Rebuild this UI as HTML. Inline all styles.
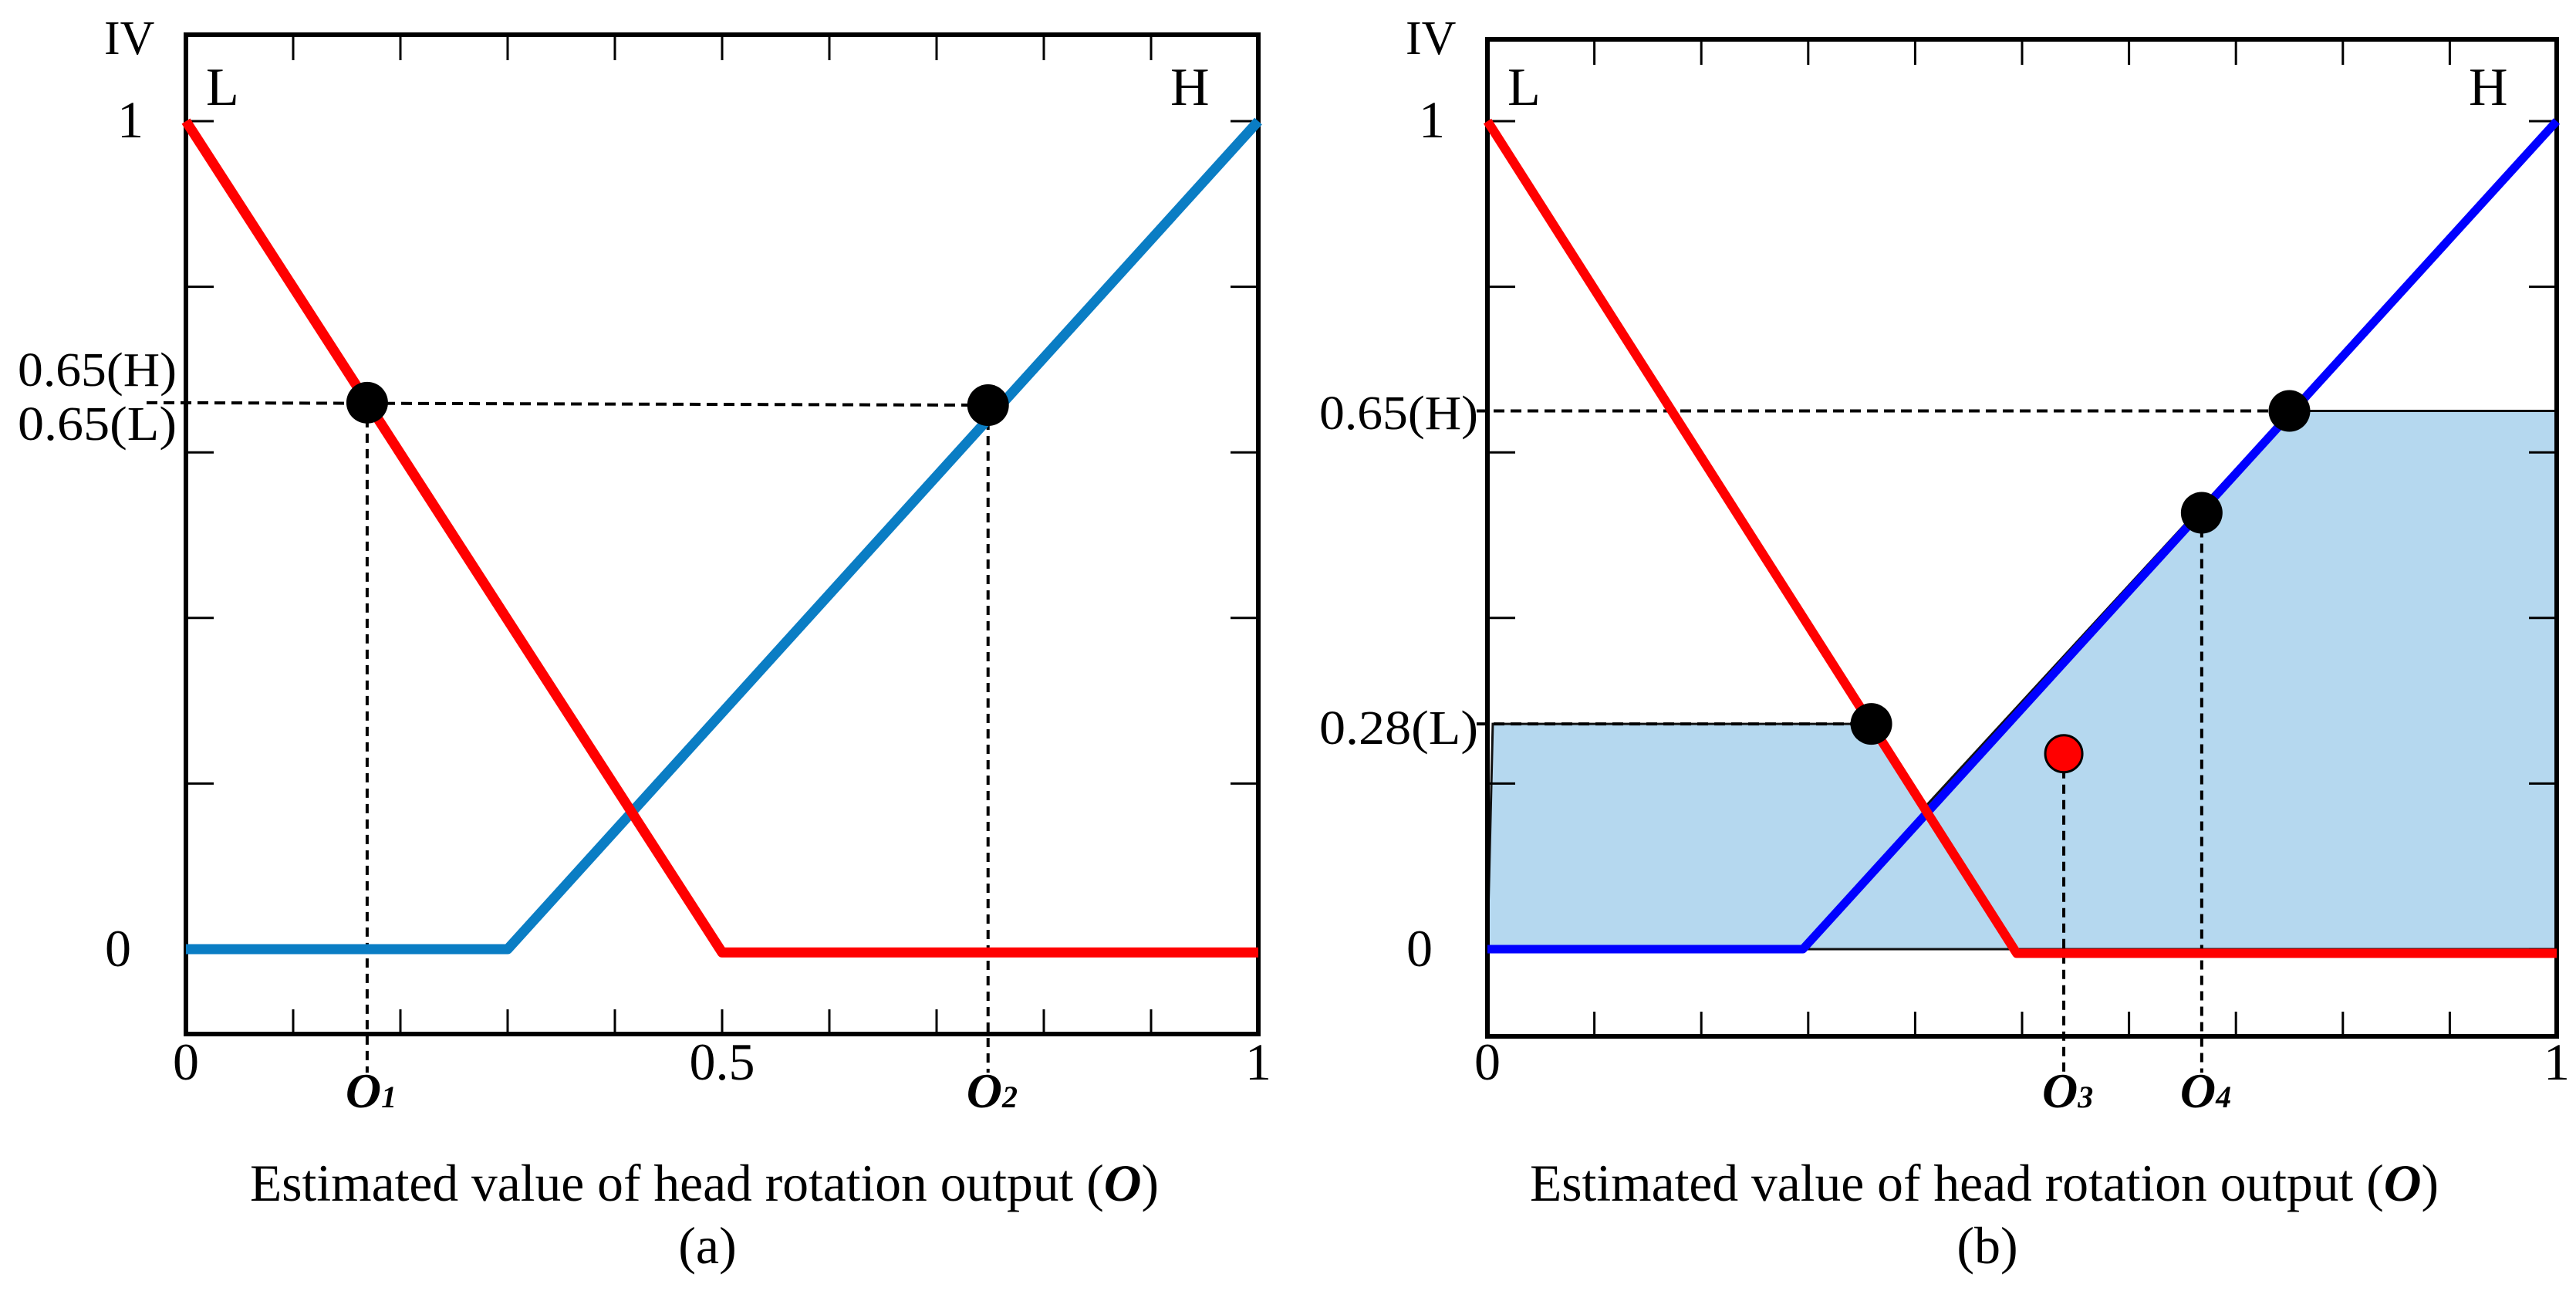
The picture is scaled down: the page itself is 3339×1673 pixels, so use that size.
<!DOCTYPE html>
<html><head><meta charset="utf-8"><style>
html,body{margin:0;padding:0;background:#fff;}
svg{display:block;}
text{font-family:"Liberation Serif",serif;fill:#000;}
</style></head><body>
<svg id="fig" width="3339" height="1673" viewBox="0 0 3339 1673" xmlns="http://www.w3.org/2000/svg"></svg>
<script>
// ---- data ----
const redX = [0, 0.5, 1];
const redY = [1, -0.004, -0.004];
const blueX = [0, 0.3, 1];
const blueY = [0, 0, 1];
const redXb = [0, 0.495, 1];
const redYb = [1, -0.005, -0.005];
const blueXb = [0, 0.295, 1];
const blueYb = [0, 0, 1];
const dotsAX = [0.169, 0.748];
const dotsAY = [0.66, 0.657];
const dotsBX = [0.359, 0.668, 0.75];
const dotsBY = [0.272, 0.527, 0.65];
const redDotX = [0.539];
const redDotY = [0.236];
const shadeX = [0, 0.005, 0.359, 0.408, 0.75, 1, 1];
const shadeY = [0, 0.272, 0.272, 0.17, 0.65, 0.65, 0];
const xTicks = [0,0.1,0.2,0.3,0.4,0.5,0.6,0.7,0.8,0.9,1];
const yTicks = [0,0.2,0.4,0.6,0.8,1];
const xTickLabelsA = ["0","0.5","1"];
const xTickLabelValsA = [0,0.5,1];
const xTickLabelsB = ["0","1"];
const xTickLabelValsB = [0,1];

const NS = "http://www.w3.org/2000/svg";
const svg = document.getElementById("fig");
function el(tag, attrs, parent, txt){
  const e = document.createElementNS(NS, tag);
  for (const k in attrs) e.setAttribute(k, attrs[k]);
  if (txt !== undefined) e.textContent = txt;
  (parent||svg).appendChild(e);
  return e;
}
const Y0 = 1230, Y1 = 157;
function Y(v){ return Y0 - v*(Y0-Y1); }
function makeX(left, right){ return v => left + v*(right-left); }

function panel(cfg){
  const X = makeX(cfg.left, cfg.right);
  const g = el("g", {});
  
  
  if (cfg.shade){
    const pts = shadeX.map((x,i)=>X(x)+","+Y(shadeY[i])).join(" ");
    const p = el("polygon", {points: pts, fill:"#b5d8ef", stroke:"#111", "stroke-width":3}, g);
    
    
  }
  const fr = el("rect", {x:cfg.left, y:cfg.top, width:cfg.right-cfg.left, height:cfg.bottom-cfg.top, fill:"none", stroke:"#000", "stroke-width":6}, g);
  
  
  xTicks.forEach(t=>{
    if (t===0||t===1) return;
    const a = el("line",{x1:X(t),x2:X(t),y1:cfg.top,y2:cfg.top+33,stroke:"#000","stroke-width":3},g);
    
    
    const b = el("line",{x1:X(t),x2:X(t),y1:cfg.bottom,y2:cfg.bottom-32,stroke:"#000","stroke-width":3},g);
    
    
  });
  yTicks.forEach(t=>{
    const a = el("line",{x1:cfg.left,x2:cfg.left+36,y1:Y(t),y2:Y(t),stroke:"#000","stroke-width":3},g);
    
    
    const b = el("line",{x1:cfg.right,x2:cfg.right-36,y1:Y(t),y2:Y(t),stroke:"#000","stroke-width":3},g);
    
    
  });
  cfg.guides.forEach(gd=>{
    const l = el("line",{x1:gd[0],y1:gd[1],x2:gd[2],y2:gd[3],stroke:"#000","stroke-width":4,"stroke-dasharray":gd[4]||"14 8"},g);
    
    
  });
  const bp = cfg.bx.map((x,i)=>X(x)+","+Y(cfg.by[i])).join(" ");
  const bl = el("polyline",{points:bp,fill:"none",stroke:cfg.blue,"stroke-width":cfg.bw,"stroke-linejoin":"round"},g);
  
  
  const rp = cfg.rx.map((x,i)=>X(x)+","+Y(cfg.ry[i])).join(" ");
  const rl = el("polyline",{points:rp,fill:"none",stroke:"#ff0000","stroke-width":cfg.rw,"stroke-linejoin":"round"},g);
  
  
  cfg.dx.forEach((x,i)=>{
    const c = el("circle",{cx:X(x),cy:Y(cfg.dy[i]),r:27,fill:"#000"},g);
    
    
  });
  if (cfg.shade){
    redDotX.forEach((x,i)=>{
      const c = el("circle",{cx:X(x),cy:Y(redDotY[i]),r:24,fill:"#ff0000",stroke:"#000","stroke-width":3},g);
      
      
    });
  }
  cfg.xl.forEach((s,i)=>{
    const t = el("text",{x:X(cfg.xlv[i]),y:1399,"font-size":68,"text-anchor":"middle"},g,s);
    
    
  });
  const t1 = el("text",{x:cfg.left-72,y:178,"font-size":68,"text-anchor":"middle"},g,"1");
  
  
  const t0 = el("text",{x:cfg.left-88,y:1252,"font-size":68,"text-anchor":"middle"},g,"0");
  
  
  const iv = el("text",{x:cfg.left-106,y:70,"font-size":62},g,"IV");
  
  
  const L = el("text",{x:cfg.left+26,y:136,"font-size":70},g,"L");
  
  
  const H = el("text",{x:cfg.right-114,y:136,"font-size":70},g,"H");
  
  
  cfg.ylab.forEach(yl=>{
    const t = el("text",{x:cfg.left-12,y:yl[1],"font-size":62,"text-anchor":"end",textLength:206,lengthAdjust:"spacingAndGlyphs"},g,yl[0]);
    
    
  });
  cfg.olab.forEach(o=>{
    const t = el("text",{x:X(o[1])-28,y:1435,"font-size":64,"font-weight":"bold","font-style":"italic"},g);
    
    
    el("tspan",{},t,"O");
    el("tspan",{"font-size":40,dy:0},t,o[0]);
  });
  const cap = el("text",{x:cfg.capX,y:1556,"font-size":68,"text-anchor":"middle",textLength:1178,lengthAdjust:"spacingAndGlyphs"},g);
  
  
  el("tspan",{},cap,"Estimated value of head rotation output (");
  el("tspan",{"font-weight":"bold","font-style":"italic"},cap,"O");
  el("tspan",{},cap,")");
  const sub = el("text",{x:cfg.capX+4,y:1637,"font-size":68,"text-anchor":"middle"},g,cfg.sub);
  
  
}

const XA = makeX(241,1631), XB = makeX(1928,3314);
panel({name:"panel-a", left:241, right:1631, top:45, bottom:1340, shade:false,
  bx:blueX, by:blueY, rx:redX, ry:redY, blue:"#0a7dc4", bw:13, rw:13,
  dx:dotsAX, dy:dotsAY,
  guides:[[190,Y(dotsAY[0]),XA(dotsAX[1]),Y(dotsAY[1])],
          [XA(dotsAX[0]),Y(dotsAY[0]),XA(dotsAX[0]),1390,"12 8"],
          [XA(dotsAX[1]),Y(dotsAY[1]),XA(dotsAX[1]),1390,"12 8"]],
  xl:xTickLabelsA, xlv:xTickLabelValsA,
  ylab:[["0.65(H)",500],["0.65(L)",570]],
  olab:[["1",dotsAX[0]],["2",dotsAX[1]]],
  capX:913, sub:"(a)"});
panel({name:"panel-b", left:1928, right:3314, top:51, bottom:1343, shade:true,
  bx:blueXb, by:blueYb, rx:redXb, ry:redYb, blue:"#0000ff", bw:11, rw:12,
  dx:dotsBX, dy:dotsBY,
  guides:[[1914,Y(dotsBY[2]),XB(dotsBX[2]),Y(dotsBY[2])],
          [1914,Y(dotsBY[0]),XB(dotsBX[0]),Y(dotsBY[0])],
          [XB(redDotX[0]),Y(redDotY[0]),XB(redDotX[0]),1390,"12 8"],
          [XB(dotsBX[1]),Y(dotsBY[1]),XB(dotsBX[1]),1390,"12 8"]],
  xl:xTickLabelsB, xlv:xTickLabelValsB,
  ylab:[["0.65(H)",556],["0.28(L)",964]],
  olab:[["3",redDotX[0]],["4",dotsBX[1]]],
  capX:2572, sub:"(b)"});
</script>
</body></html>
